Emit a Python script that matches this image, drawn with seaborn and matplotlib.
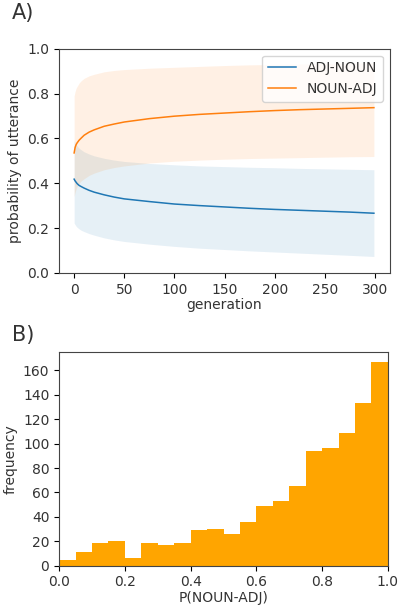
import pandas as pd
import matplotlib
matplotlib.use("Agg")
import matplotlib.pyplot as plt
import seaborn as sns

# panel A: mean probability and +/- band
generation = [0, 1, 2, 3, 5, 7, 10, 15, 20, 30, 40, 50, 75, 100, 125, 150, 175, 200, 225, 250, 275, 299]
adj_noun = [0.418, 0.410, 0.404, 0.398, 0.390, 0.385, 0.378, 0.368, 0.360, 0.348, 0.338, 0.330,
            0.318, 0.307, 0.300, 0.294, 0.288, 0.283, 0.279, 0.275, 0.271, 0.266]
noun_adj = [0.535, 0.560, 0.572, 0.580, 0.592, 0.601, 0.614, 0.628, 0.638, 0.654, 0.664, 0.673,
            0.688, 0.699, 0.707, 0.713, 0.719, 0.724, 0.728, 0.731, 0.734, 0.737]
adj_noun_lo = [0.222, 0.215, 0.208, 0.203, 0.196, 0.190, 0.184, 0.175, 0.168, 0.156, 0.147, 0.140,
               0.128, 0.118, 0.110, 0.104, 0.098, 0.093, 0.088, 0.083, 0.078, 0.073]
adj_noun_hi = [0.590, 0.580, 0.572, 0.566, 0.556, 0.549, 0.540, 0.530, 0.522, 0.511, 0.503, 0.497,
               0.488, 0.482, 0.477, 0.474, 0.471, 0.469, 0.466, 0.464, 0.462, 0.460]
noun_adj_lo = [0.340, 0.360, 0.375, 0.385, 0.400, 0.410, 0.420, 0.435, 0.445, 0.460, 0.470, 0.477,
               0.490, 0.498, 0.503, 0.507, 0.510, 0.512, 0.514, 0.516, 0.518, 0.519]
noun_adj_hi = [0.790, 0.810, 0.824, 0.832, 0.847, 0.857, 0.868, 0.879, 0.886, 0.897, 0.903, 0.907,
               0.913, 0.917, 0.921, 0.925, 0.928, 0.930, 0.932, 0.934, 0.936, 0.937]

# panel B: histogram counts, 20 bins over [0, 1]
bin_centers = [0.025 + 0.05 * i for i in range(20)]
counts = [5, 11, 19, 20, 6, 19, 17, 19, 29, 30, 26, 36, 49, 53, 65, 94, 96, 109, 133, 167]

blue, orange = "#1f77b4", "#ff7f0e"
plt.rcParams["font.size"] = 10
plt.rcParams["text.color"] = "#333333"
plt.rcParams["axes.labelcolor"] = "#333333"
plt.rcParams["xtick.labelcolor"] = "#333333"
plt.rcParams["ytick.labelcolor"] = "#333333"
plt.rcParams["axes.edgecolor"] = "#444444"

df = pd.DataFrame({
    "generation": generation * 2,
    "p": adj_noun + noun_adj,
    "order": ["ADJ-NOUN"] * len(generation) + ["NOUN-ADJ"] * len(generation),
})

fig = plt.figure(figsize=(4.02, 6.09), dpi=100)
ax1 = fig.add_axes([0.147, 0.552, 0.823, 0.368])
ax2 = fig.add_axes([0.147, 0.071, 0.818, 0.351])

ax1.fill_between(generation, adj_noun_lo, adj_noun_hi, color=blue, alpha=0.11, linewidth=0)
ax1.fill_between(generation, noun_adj_lo, noun_adj_hi, color=orange, alpha=0.11, linewidth=0)
sns.lineplot(data=df, x="generation", y="p", hue="order", palette=[blue, orange],
             linewidth=1.1, ax=ax1)
ax1.set_ylim(0, 1)
ax1.set_xlim(-15, 315)
ax1.set_xticks(range(0, 301, 50))
ax1.set_xlabel("generation", labelpad=1)
ax1.set_ylabel("probability of utterance")
ax1.legend(loc="upper right", fontsize=10)

sns.histplot(x=bin_centers, weights=counts, bins=20, binrange=(0, 1), color="orange",
             alpha=1, linewidth=0, ax=ax2)
ax2.set_xlim(0, 1)
ax2.set_ylim(0, 175)
ax2.set_yticks(range(0, 161, 20))
ax2.set_xlabel("P(NOUN-ADJ)", labelpad=1)
ax2.set_ylabel("frequency")

fig.text(0.03, 0.995, "A)", fontsize=15, va="top")
fig.text(0.03, 0.467, "B)", fontsize=15, va="top")

fig.savefig("out.png", dpi=100)
